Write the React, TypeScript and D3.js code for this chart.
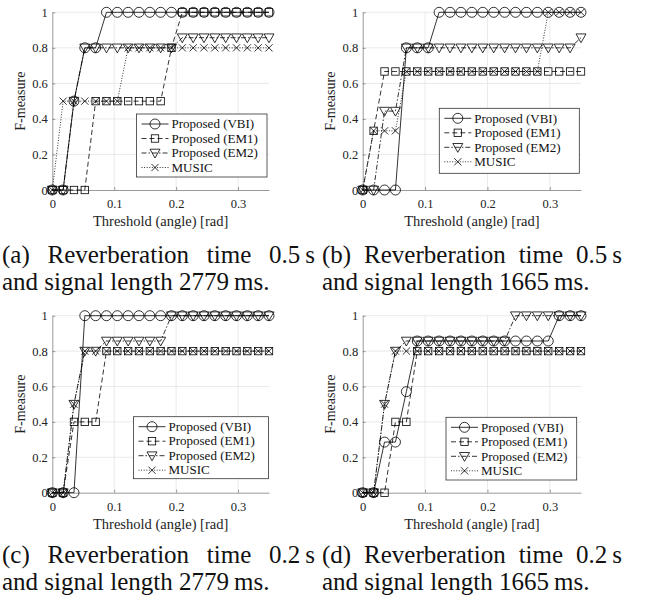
import React, { useRef, useEffect } from "react";
import * as d3 from "d3";

// thresholds (angle) [rad]
const thresholds = [
  0, 0.0175, 0.035, 0.0525, 0.07, 0.0875, 0.105, 0.1225, 0.14, 0.1575, 0.175,
  0.1925, 0.21, 0.2275, 0.245, 0.2625, 0.28, 0.2975, 0.315, 0.3325, 0.35,
];

const xTicks = [0, 0.1, 0.2, 0.3];
const yTicks = [0, 0.2, 0.4, 0.6, 0.8, 1];
const seriesNames = ["Proposed (VBI)", "Proposed (EM1)", "Proposed (EM2)", "MUSIC"];

// (a) RT 0.5 s, 2779 ms
const vbiA = [0, 0, 0.5, 0.8, 0.8, 1, 1, 1, 1, 1, 1, 1, 1, 1, 1, 1, 1, 1, 1, 1, 1];
const em1A = [0, 0, 0, 0, 0.5, 0.5, 0.5, 0.5, 0.5, 0.5, 0.5, 0.8, 1, 1, 1, 1, 1, 1, 1, 1, 1];
const em2A = [0, 0, 0.5, 0.8, 0.8, 0.8, 0.8, 0.8, 0.8, 0.8, 0.8, 0.8, 0.857, 0.857, 0.857, 0.857, 0.857, 0.857, 0.857, 0.857, 0.857];
const musicA = [0, 0.5, 0.5, 0.5, 0.5, 0.5, 0.5, 0.8, 0.8, 0.8, 0.8, 0.8, 0.8, 0.8, 0.8, 0.8, 0.8, 0.8, 0.8, 0.8, 0.8];

// (b) RT 0.5 s, 1665 ms
const vbiB = [0, 0, 0, 0, 0.8, 0.8, 0.8, 1, 1, 1, 1, 1, 1, 1, 1, 1, 1, 1, 1, 1, 1];
const em1B = [0, 0.333, 0.667, 0.667, 0.667, 0.667, 0.667, 0.667, 0.667, 0.667, 0.667, 0.667, 0.667, 0.667, 0.667, 0.667, 0.667, 0.667, 0.667, 0.667, 0.667];
const em2B = [0, 0, 0.444, 0.444, 0.8, 0.8, 0.8, 0.8, 0.8, 0.8, 0.8, 0.8, 0.8, 0.8, 0.8, 0.8, 0.8, 0.8, 0.8, 0.8, 0.857];
const musicB = [0, 0.333, 0.333, 0.333, 0.667, 0.667, 0.667, 0.667, 0.667, 0.667, 0.667, 0.667, 0.667, 0.667, 0.667, 0.667, 0.667, 1, 1, 1, 1];

// (c) RT 0.2 s, 2779 ms
const vbiC = [0, 0, 0, 1, 1, 1, 1, 1, 1, 1, 1, 1, 1, 1, 1, 1, 1, 1, 1, 1, 1];
const em1C = [0, 0, 0.4, 0.4, 0.4, 0.8, 0.8, 0.8, 0.8, 0.8, 0.8, 0.8, 0.8, 0.8, 0.8, 0.8, 0.8, 0.8, 0.8, 0.8, 0.8];
const em2C = [0, 0, 0.5, 0.8, 0.8, 0.857, 0.857, 0.857, 0.857, 0.857, 0.857, 1, 1, 1, 1, 1, 1, 1, 1, 1, 1];
const musicC = [0, 0, 0.5, 0.8, 0.8, 0.8, 0.8, 0.8, 0.8, 0.8, 0.8, 0.8, 0.8, 0.8, 0.8, 0.8, 0.8, 0.8, 0.8, 0.8, 0.8];

// (d) RT 0.2 s, 1665 ms
const vbiD = [0, 0, 0.286, 0.286, 0.571, 0.857, 0.857, 0.857, 0.857, 0.857, 0.857, 0.857, 0.857, 0.857, 0.857, 0.857, 0.857, 0.857, 1, 1, 1];
const em1D = [0, 0, 0, 0.4, 0.4, 0.8, 0.8, 0.8, 0.8, 0.8, 0.8, 0.8, 0.8, 0.8, 0.8, 0.8, 0.8, 0.8, 0.8, 0.8, 0.8];
const em2D = [0, 0, 0.5, 0.8, 0.857, 0.857, 0.857, 0.857, 0.857, 0.857, 0.857, 0.857, 0.857, 0.857, 1, 1, 1, 1, 1, 1, 1];
const musicD = [0, 0, 0.5, 0.8, 0.8, 0.8, 0.8, 0.8, 0.8, 0.8, 0.8, 0.8, 0.8, 0.8, 0.8, 0.8, 0.8, 0.8, 0.8, 0.8, 0.8];

const panels = [
  { series: [vbiA, em1A, em2A, musicA], x0: 52.3, x1: 269, y0: 190, y1: 12.3,
    legend: { x: 136.5, y: 114, w: 130.5, h: 63 }, yLabelX: 25,
    cap: { left: 2, right: 315, y: 262.5, line1: ["(a)", "Reverberation", "time", "0.5\u2009s"], line2: "and signal length 2779\u2009ms." } },
  { series: [vbiB, em1B, em2B, musicB], x0: 362.7, x1: 581, y0: 190, y1: 12.3,
    legend: { x: 439.3, y: 108.3, w: 140, h: 65 }, yLabelX: 334.5,
    cap: { left: 322, right: 622, y: 262.5, line1: ["(b)", "Reverberation", "time", "0.5\u2009s"], line2: "and signal length 1665\u2009ms." } },
  { series: [vbiC, em1C, em2C, musicC], x0: 52.3, x1: 269, y0: 492.7, y1: 315.7,
    legend: { x: 133.5, y: 416.7, w: 135, h: 62 }, yLabelX: 25,
    cap: { left: 2, right: 315, y: 562.5, line1: ["(c)", "Reverberation", "time", "0.2\u2009s"], line2: "and signal length 2779\u2009ms." } },
  { series: [vbiD, em1D, em2D, musicD], x0: 362.7, x1: 581, y0: 492.7, y1: 315.7,
    legend: { x: 446, y: 417.3, w: 130.7, h: 62.7 }, yLabelX: 334.5,
    cap: { left: 322, right: 622, y: 562.5, line1: ["(d)", "Reverberation", "time", "0.2\u2009s"], line2: "and signal length 1665\u2009ms." } },
];

const dashes = [null, "5,3", "5,2,1.5,2", "1,1.6"];
const FONT = "'Liberation Serif', 'Times New Roman', serif";

function drawMarker(g, kind, cx, cy) {
  const s = g.append("g").attr("fill", "none").attr("stroke", "#000").attr("stroke-width", 0.8);
  if (kind === 0) {
    s.append("circle").attr("cx", cx).attr("cy", cy).attr("r", 5);
  } else if (kind === 1) {
    s.append("rect").attr("x", cx - 3.7).attr("y", cy - 3.7).attr("width", 7.4).attr("height", 7.4);
  } else if (kind === 2) {
    s.append("path").attr("d", `M${cx - 5},${cy - 3.8}L${cx + 5},${cy - 3.8}L${cx},${cy + 5}Z`);
  } else {
    s.append("path").attr("d", `M${cx - 3.6},${cy - 3.6}L${cx + 3.6},${cy + 3.6}M${cx - 3.6},${cy + 3.6}L${cx + 3.6},${cy - 3.6}`);
  }
}

export default function App() {
  const svgRef = useRef(null);

  useEffect(() => {
    const svg = d3.select(svgRef.current);
    svg.selectAll("*").remove();

    panels.forEach((p) => {
      const x = d3.scaleLinear().domain([0, 0.35]).range([p.x0, p.x1]);
      const y = d3.scaleLinear().domain([0, 1]).range([p.y0, p.y1]);
      const g = svg.append("g");

      // grid
      g.append("g").selectAll("line").data(xTicks.slice(1)).enter().append("line")
        .attr("x1", (d) => x(d)).attr("x2", (d) => x(d)).attr("y1", p.y0).attr("y2", p.y1)
        .attr("stroke", "#e4e4e4").attr("stroke-width", 0.8);
      g.append("g").selectAll("line").data(yTicks.slice(1)).enter().append("line")
        .attr("x1", p.x0).attr("x2", p.x1).attr("y1", (d) => y(d)).attr("y2", (d) => y(d))
        .attr("stroke", "#e4e4e4").attr("stroke-width", 0.8);

      // axes
      const ax = g.append("g").attr("transform", `translate(0,${p.y0})`)
        .call(d3.axisBottom(x).tickValues(xTicks).tickSizeInner(-3).tickSizeOuter(0).tickPadding(9).tickFormat((d) => String(d)));
      const ay = g.append("g").attr("transform", `translate(${p.x0},0)`)
        .call(d3.axisLeft(y).tickValues(yTicks).tickSizeInner(-3).tickSizeOuter(0).tickPadding(4.5).tickFormat((d) => String(d)));
      [ax, ay].forEach((a) => {
        a.select(".domain").attr("stroke", "#808080").attr("stroke-width", 0.8);
        a.selectAll(".tick line").attr("stroke", "#808080").attr("stroke-width", 0.8);
        a.selectAll("text").attr("font-family", FONT).attr("font-size", 12.5).attr("fill", "#222");
      });

      // axis labels
      g.append("text").attr("x", (p.x0 + p.x1) / 2).attr("y", p.y0 + 36)
        .attr("text-anchor", "middle").attr("font-family", FONT).attr("font-size", 14.5).attr("fill", "#222")
        .text("Threshold (angle) [rad]");
      g.append("text").attr("transform", `translate(${p.yLabelX},${(p.y0 + p.y1) / 2}) rotate(-90)`)
        .attr("text-anchor", "middle").attr("font-family", FONT).attr("font-size", 14).attr("fill", "#222")
        .text("F-measure");

      // series
      const line = d3.line().x((d, i) => x(thresholds[i])).y((d) => y(d));
      p.series.forEach((vals, k) => {
        g.append("path").datum(vals).attr("d", line).attr("fill", "none")
          .attr("stroke", "#000").attr("stroke-width", 0.8)
          .attr("stroke-dasharray", dashes[k]);
        vals.forEach((v, i) => drawMarker(g, k, x(thresholds[i]), y(v)));
      });

      // legend
      const L = p.legend;
      const lg = g.append("g");
      lg.append("rect").attr("x", L.x).attr("y", L.y).attr("width", L.w).attr("height", L.h)
        .attr("fill", "#fff").attr("stroke", "#333").attr("stroke-width", 0.8);
      seriesNames.forEach((name, k) => {
        const ry = L.y + 10 + k * 14.5;
        lg.append("line").attr("x1", L.x + 5).attr("x2", L.x + 32).attr("y1", ry).attr("y2", ry)
          .attr("stroke", "#000").attr("stroke-width", 0.8).attr("stroke-dasharray", dashes[k]);
        drawMarker(lg, k, L.x + 18.5, ry);
        lg.append("text").attr("x", L.x + 35).attr("y", ry).attr("dy", "0.33em")
          .attr("font-family", FONT).attr("font-size", 13).attr("fill", "#111").text(name);
      });

      // caption: justified first line, natural second line
      const c = p.cap;
      const words = c.line1.map((w) =>
        g.append("text").attr("y", c.y).attr("font-family", FONT).attr("font-size", 25).attr("fill", "#111").text(w)
      );
      const widths = words.map((w) => w.node().getComputedTextLength());
      const gap = (c.right - c.left - d3.sum(widths)) / (words.length - 1);
      let cx = c.left;
      words.forEach((w, i) => { w.attr("x", cx); cx += widths[i] + gap; });
      g.append("text").attr("x", c.left).attr("y", c.y + 27.5).attr("font-family", FONT)
        .attr("font-size", 25).attr("fill", "#111").text(c.line2);
    });
  }, []);

  return (
    <svg ref={svgRef} width={645} height={604}
      style={{ position: "absolute", left: 0, top: 0, background: "#fff" }}></svg>
  );
}
